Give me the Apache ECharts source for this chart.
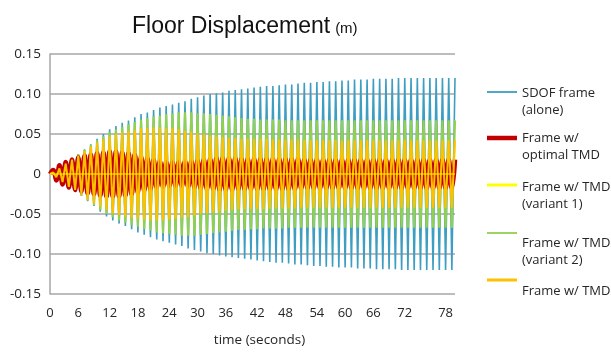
<!DOCTYPE html>
<html>
<head>
<meta charset="utf-8">
<script src="https://cdn.jsdelivr.net/npm/echarts@6/dist/echarts.min.js"></script>
<style>
  html, body { margin: 0; padding: 0; background: #fff; }
  #chart { width: 611px; height: 352px; }
</style>
</head>
<body>
<div id="chart"></div>
<script>
// One sample per half-cycle extreme of the response.
// Displacement (m) of the bare SDOF frame
const sdofAlone = [
  0, 0.002, -0.004, 0.007, -0.011, 0.014, -0.017, 0.019, -0.022, 0.025,
  -0.027, 0.031, -0.034, 0.037, -0.040, 0.044, -0.047, 0.050, -0.053, 0.056,
  -0.058, 0.060, -0.062, 0.064, -0.065, 0.067, -0.069, 0.071, -0.073, 0.075,
  -0.076, 0.077, -0.079, 0.080, -0.082, 0.083, -0.084, 0.085, -0.086, 0.087,
  -0.088, 0.089, -0.090, 0.091, -0.093, 0.094, -0.095, 0.096, -0.097, 0.098,
  -0.099, 0.100, -0.100, 0.101, -0.102, 0.102, -0.103, 0.104, -0.104, 0.105,
  -0.105, 0.106, -0.106, 0.107, -0.107, 0.108, -0.108, 0.109, -0.109, 0.110,
  -0.110, 0.110, -0.111, 0.111, -0.111, 0.112, -0.112, 0.112, -0.113, 0.113,
  -0.113, 0.114, -0.114, 0.114, -0.115, 0.115, -0.115, 0.115, -0.116, 0.116,
  -0.116, 0.116, -0.117, 0.117, -0.117, 0.117, -0.117, 0.118, -0.118, 0.118,
  -0.118, 0.118, -0.118, 0.119, -0.119, 0.119, -0.119, 0.119, -0.119, 0.119,
  -0.119, 0.120, -0.120, 0.120, -0.120, 0.120, -0.120, 0.120, -0.120, 0.120,
  -0.120, 0.120, -0.120, 0.120, -0.120, 0.120, -0.120, 0.120, -0.120, 0.120
];

// Frame with the optimally tuned mass damper
const optimalTmd = [
  0, 0.005, -0.008, 0.011, -0.013, 0.015, -0.017, 0.018, -0.020, 0.021,
  -0.022, 0.023, -0.024, 0.024, -0.025, 0.026, -0.027, 0.027, -0.028, 0.028,
  -0.028, 0.028, -0.028, 0.027, -0.027, 0.026, -0.025, 0.024, -0.023, 0.022,
  -0.021, 0.020, -0.019, 0.018, -0.017, 0.016, -0.016, 0.015, -0.015, 0.015,
  -0.015, 0.015, -0.015, 0.016, -0.016, 0.016, -0.017, 0.017, -0.018, 0.018,
  -0.019, 0.019, -0.019, 0.020, -0.020, 0.020, -0.020, 0.020, -0.020, 0.020,
  -0.019, 0.019, -0.019, 0.019, -0.019, 0.019, -0.019, 0.019, -0.019, 0.019,
  -0.019, 0.019, -0.019, 0.019, -0.019, 0.019, -0.019, 0.019, -0.019, 0.019,
  -0.018, 0.018, -0.018, 0.018, -0.018, 0.018, -0.018, 0.018, -0.018, 0.018,
  -0.018, 0.018, -0.018, 0.018, -0.018, 0.018, -0.018, 0.018, -0.018, 0.018,
  -0.018, 0.018, -0.018, 0.018, -0.018, 0.018, -0.018, 0.018, -0.018, 0.018,
  -0.018, 0.018, -0.018, 0.018, -0.018, 0.018, -0.018, 0.018, -0.018, 0.018,
  -0.018, 0.018, -0.018, 0.018, -0.018, 0.018, -0.018, 0.018, -0.018, 0.018
];

// TMD variant 1 (stays at rest)
const tmdVariant1 = [
  0, 0, 0, 0, 0, 0, 0, 0, 0, 0,
  0, 0, 0, 0, 0, 0, 0, 0, 0, 0,
  0, 0, 0, 0, 0, 0, 0, 0, 0, 0,
  0, 0, 0, 0, 0, 0, 0, 0, 0, 0,
  0, 0, 0, 0, 0, 0, 0, 0, 0, 0,
  0, 0, 0, 0, 0, 0, 0, 0, 0, 0,
  0, 0, 0, 0, 0, 0, 0, 0, 0, 0,
  0, 0, 0, 0, 0, 0, 0, 0, 0, 0,
  0, 0, 0, 0, 0, 0, 0, 0, 0, 0,
  0, 0, 0, 0, 0, 0, 0, 0, 0, 0,
  0, 0, 0, 0, 0, 0, 0, 0, 0, 0,
  0, 0, 0, 0, 0, 0, 0, 0, 0, 0,
  0, 0, 0, 0, 0, 0, 0, 0, 0, 0
];

// TMD variant 2
const tmdVariant2 = [
  0, 0.002, -0.004, 0.007, -0.011, 0.014, -0.017, 0.019, -0.022, 0.025,
  -0.027, 0.030, -0.033, 0.036, -0.039, 0.042, -0.045, 0.047, -0.050, 0.052,
  -0.054, 0.056, -0.058, 0.059, -0.061, 0.062, -0.064, 0.065, -0.066, 0.068,
  -0.069, 0.070, -0.071, 0.072, -0.073, 0.073, -0.074, 0.075, -0.075, 0.076,
  -0.076, 0.077, -0.077, 0.077, -0.077, 0.077, -0.077, 0.076, -0.076, 0.076,
  -0.075, 0.075, -0.074, 0.074, -0.073, 0.073, -0.072, 0.072, -0.071, 0.071,
  -0.070, 0.070, -0.070, 0.069, -0.069, 0.069, -0.069, 0.068, -0.068, 0.068,
  -0.068, 0.068, -0.068, 0.068, -0.068, 0.067, -0.067, 0.067, -0.067, 0.067,
  -0.067, 0.067, -0.067, 0.067, -0.067, 0.067, -0.067, 0.067, -0.067, 0.067,
  -0.067, 0.067, -0.067, 0.067, -0.067, 0.067, -0.067, 0.067, -0.067, 0.067,
  -0.067, 0.067, -0.067, 0.067, -0.067, 0.067, -0.067, 0.067, -0.067, 0.067,
  -0.067, 0.067, -0.067, 0.067, -0.067, 0.067, -0.067, 0.067, -0.067, 0.067,
  -0.067, 0.067, -0.067, 0.067, -0.067, 0.067, -0.067, 0.067, -0.067, 0.067
];

// Frame with the basic TMD
const tmdBasic = [
  0, 0.002, -0.004, 0.007, -0.010, 0.013, -0.016, 0.018, -0.020, 0.023,
  -0.026, 0.029, -0.032, 0.035, -0.037, 0.039, -0.041, 0.043, -0.045, 0.047,
  -0.049, 0.050, -0.051, 0.052, -0.053, 0.054, -0.055, 0.055, -0.056, 0.057,
  -0.057, 0.057, -0.058, 0.058, -0.058, 0.058, -0.058, 0.057, -0.057, 0.057,
  -0.056, 0.056, -0.055, 0.054, -0.054, 0.053, -0.052, 0.051, -0.050, 0.050,
  -0.049, 0.048, -0.048, 0.047, -0.047, 0.046, -0.046, 0.045, -0.045, 0.045,
  -0.044, 0.044, -0.044, 0.044, -0.044, 0.044, -0.044, 0.044, -0.044, 0.044,
  -0.043, 0.043, -0.043, 0.043, -0.043, 0.043, -0.043, 0.043, -0.043, 0.043,
  -0.042, 0.042, -0.042, 0.042, -0.042, 0.042, -0.042, 0.042, -0.042, 0.042,
  -0.042, 0.042, -0.042, 0.042, -0.042, 0.042, -0.042, 0.042, -0.042, 0.042,
  -0.042, 0.042, -0.042, 0.042, -0.042, 0.042, -0.042, 0.042, -0.042, 0.042,
  -0.042, 0.042, -0.042, 0.042, -0.042, 0.042, -0.042, 0.042, -0.042, 0.042,
  -0.042, 0.042, -0.042, 0.042, -0.042, 0.042, -0.042, 0.042, -0.042, 0.042
];

// Time axis labels (seconds) and the sample each one sits on
const timeTickLabels = ['0', '6', '12', '18', '24', '30', '36', '42', '48', '54', '60', '66', '72', '78'];
const timeTickSamples = [0, 9, 19, 28, 38, 47, 56, 66, 75, 85, 94, 103, 113, 126];

const seriesNames = [
  'SDOF frame\n(alone)',
  'Frame w/\noptimal TMD',
  'Frame w/ TMD\n(variant 1)',
  'Frame w/ TMD\n(variant 2)',
  'Frame w/ TMD'
];

const categories = sdofAlone.map(() => '');
timeTickSamples.forEach((s, k) => { categories[s] = timeTickLabels[k]; });

const FONT = '"Open Sans", "DejaVu Sans", sans-serif';
const TEXT = '#262626';
const GRID = '#a6a6a6';

const colors = ['#3e9ec2', '#c00000', '#ffff00', '#92d050', '#ffc000'];

function lineSeries(name, data, color, width, smooth) {
  return {
    name: name, type: 'line', data: data, symbol: 'none', showSymbol: false,
    smooth: smooth, silent: true, animation: false, color: color,
    lineStyle: { color: color, width: width }
  };
}

// Legend key: a 30 x 40 box whose coloured bar sits at `y` (height `h`),
// so the bar lines up with the first text row like an Excel legend.
const KEY_W = 30, KEY_H = 40;
function keyIcon(y, h) {
  return 'path://M0,0M' + KEY_W + ',' + KEY_H +
    'M0,' + y + 'L' + KEY_W + ',' + y + 'L' + KEY_W + ',' + (y + h) + 'L0,' + (y + h) + 'Z';
}
const legendSpec = [
  { top: 81.5, y: 9.6, h: 1.8 },
  { top: 126.5, y: 9.25, h: 4.5 },
  { top: 175.5, y: 8, h: 3 },
  { top: 231.5, y: 0.6, h: 1.8 },
  { top: 271.7, y: 6.8, h: 3 }
];
const legends = seriesNames.map((n, k) => ({
  data: [n],
  left: 487,
  top: legendSpec[k].top,
  orient: 'vertical',
  padding: 0,
  icon: keyIcon(legendSpec[k].y, legendSpec[k].h),
  symbolKeepAspect: false,
  itemWidth: KEY_W,
  itemHeight: KEY_H,
  itemGap: 0,
  selectedMode: false,
  textStyle: { fontFamily: FONT, fontSize: 13, color: TEXT, lineHeight: 17 }
}));

const chart = echarts.init(document.getElementById('chart'), null, { renderer: 'canvas' });
chart.setOption({
  animation: false,
  backgroundColor: '#ffffff',
  title: {
    text: '{a|Floor Displacement} {b|(m)}',
    left: 127, top: 3,
    textStyle: {
      fontWeight: 'normal',
      rich: {
        a: { fontFamily: '"Liberation Sans", Arial, sans-serif', fontSize: 23, fontWeight: 'normal', color: '#111', verticalAlign: 'bottom', lineHeight: 30 },
        b: { fontFamily: '"Liberation Sans", Arial, sans-serif', fontSize: 15, fontWeight: 'normal', color: '#111', verticalAlign: 'bottom', lineHeight: 30, padding: [0, 0, 2, 0] }
      }
    }
  },
  legend: legends,
  grid: { left: 50, right: 156, top: 54, bottom: 58, containLabel: false },
  xAxis: {
    type: 'category',
    data: categories,
    boundaryGap: false,
    name: 'time (seconds)',
    nameLocation: 'middle',
    nameGap: 39,
    nameTextStyle: { fontFamily: FONT, fontSize: 13.5, color: TEXT, padding: [0, 0, 0, 14] },
    axisLine: { show: false },
    axisTick: { show: false },
    splitLine: { show: false },
    axisLabel: {
      interval: 0, margin: 13,
      fontFamily: FONT, fontSize: 13, color: TEXT
    }
  },
  yAxis: {
    type: 'value',
    min: -0.15, max: 0.15, interval: 0.05,
    axisLine: { show: true, lineStyle: { color: GRID, width: 1.5 } },
    axisTick: { show: false },
    splitLine: { show: true, lineStyle: { color: GRID, width: 1.5 } },
    axisLabel: {
      margin: 9, fontFamily: FONT, fontSize: 13.5, color: TEXT,
      formatter: v => (Math.abs(v) < 1e-9 ? '0' : v.toFixed(2))
    }
  },
  series: [
    lineSeries(seriesNames[0], sdofAlone, colors[0], 1.6, false),
    lineSeries(seriesNames[3], tmdVariant2, colors[3], 2.2, false),
    lineSeries(seriesNames[1], optimalTmd, colors[1], 4.5, 0.5),
    lineSeries(seriesNames[4], tmdBasic, colors[4], 2, false),
    lineSeries(seriesNames[2], tmdVariant1, colors[2], 1.2, false)
  ]
});
</script>
</body>
</html>
